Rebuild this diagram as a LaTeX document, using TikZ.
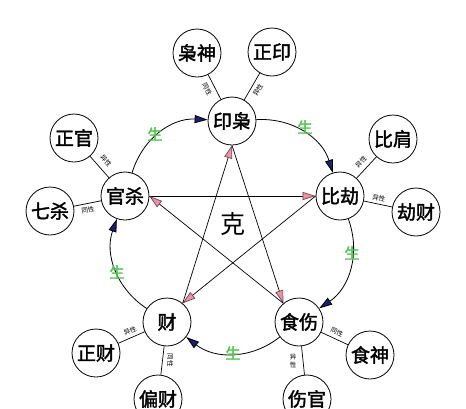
\documentclass[tikz,border=0pt]{standalone}
\usepackage{fontspec}
\newfontfamily\cjk{Noto Sans CJK SC}
\newfontfamily\cjkb{Noto Sans CJK SC}[FakeBold=2]
\usetikzlibrary{arrows.meta}
\definecolor{navyc}{RGB}{30,30,110}
\definecolor{pinkc}{RGB}{225,150,170}
\definecolor{pinkd}{RGB}{130,60,80}
\definecolor{greenc}{RGB}{80,195,80}
\begin{document}
\begin{tikzpicture}[x=1pt,y=-1pt,
  ring/.style={circle,draw,line width=0.8pt,minimum size=48pt,inner sep=0pt,font=\cjkb\fontsize{19}{19}\selectfont},
  spoke/.style={line width=0.7pt},
  tiny/.style={font=\cjk\fontsize{6.5}{7.5}\selectfont,inner sep=0pt},
  sheng/.style={font=\cjkb\fontsize{15}{15}\selectfont,text=greenc,inner sep=0pt},
  genarc/.style={line width=0.8pt,-{Triangle[length=13pt,width=8pt,fill=navyc,color=black]},bend left=38},
  kearrow/.style={line width=0.7pt,-{Triangle[length=13pt,width=8pt,fill=pinkc,color=pinkd]}},
]
\useasboundingbox (0,0) rectangle (466,408);
% main nodes
\node[ring] (yx) at (232,121) {印枭};
\node[ring] (bj) at (340,196) {比劫};
\node[ring] (ss) at (299,322) {食伤};
\node[ring] (cai) at (167,322) {财};
\node[ring] (gs) at (125,196) {官杀};
% outer nodes
\node[ring] (xs) at (197,53) {枭神};
\node[ring] (zy) at (272,52) {正印};
\node[ring] (bjian) at (393,139) {比肩};
\node[ring] (jc) at (416,212) {劫财};
\node[ring] (shen) at (370,355) {食神};
\node[ring] (sg) at (307,399) {伤官};
\node[ring] (pc) at (158,399) {偏财};
\node[ring] (zc) at (96,353) {正财};
\node[ring] (qs) at (50,211) {七杀};
\node[ring] (zg) at (74,138) {正官};
% spokes
\draw[spoke] (yx) -- (xs);
\draw[spoke] (yx) -- (zy);
\draw[spoke] (bj) -- (bjian);
\draw[spoke] (bj) -- (jc);
\draw[spoke] (ss) -- (shen);
\draw[spoke] (ss) -- (sg);
\draw[spoke] (cai) -- (pc);
\draw[spoke] (cai) -- (zc);
\draw[spoke] (gs) -- (qs);
\draw[spoke] (gs) -- (zg);
% generating arcs
\draw[genarc] (gs) to (yx);
\draw[genarc] (yx) to (bj);
\draw[genarc] (bj) to (ss);
\draw[genarc] (ss) to (cai);
\draw[genarc] (cai) to (gs);
% controlling star
\draw[kearrow] (gs.east) -- (bj.west);
\draw[kearrow] (bj.west) -- (cai.50);
\draw[kearrow] (cai.50) -- (yx.south);
\draw[kearrow] (yx.south) -- (ss.130);
\draw[kearrow] (ss.130) -- (gs.east);
% spoke labels
\node[tiny,rotate=-63] (l1) at (207,89) {同性};
\node[tiny,rotate=60] (l2) at (258,90) {异性};
\node[tiny,rotate=47] (l3) at (361,162) {异性};
\node[tiny,rotate=-12] (l4) at (379,198) {异性};
\node[tiny,rotate=-49] (l5) at (106,161) {异性};
\node[tiny,rotate=11] (l6) at (88,210) {同性};
\node[tiny,rotate=24] (l7) at (130,331) {异性};
\node[tiny,rotate=-90] (l8) at (170,360) {同性};
\node[tiny,rotate=-25] (l9) at (337,332) {同性};
\node[tiny,align=center] (l10) at (293,361) {异\\性};
% sheng labels
\node[sheng] (s1) at (155,134) {生};
\node[sheng] (s2) at (305,127) {生};
\node[sheng] (s3) at (352,253) {生};
\node[sheng] (s4) at (233,353) {生};
\node[sheng] (s5) at (117,272) {生};
% ke
\node[font=\cjk\fontsize{25}{25}\selectfont,inner sep=0pt] (ke) at (233,224) {克};
\end{tikzpicture}
\end{document}
